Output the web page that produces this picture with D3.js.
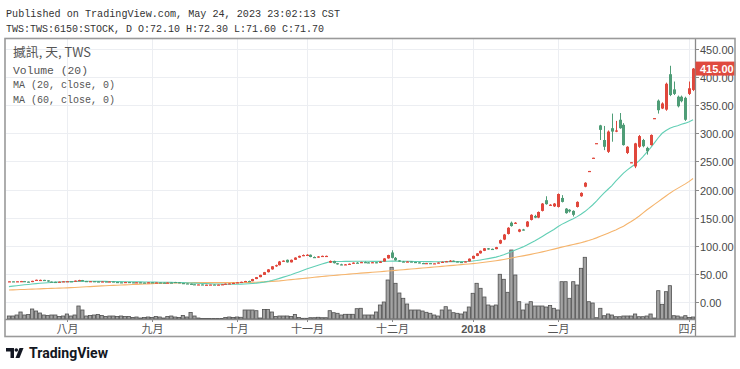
<!DOCTYPE html>
<html><head><meta charset="utf-8">
<script src="https://cdn.jsdelivr.net/npm/d3@7"></script>
<style>body{margin:0;background:#fff;}svg{display:block;}</style>
</head><body>
<svg id="c" width="740" height="369"></svg>
<script>
// ---------- DATA ----------
const openP = [36.5,36.8,36.6,36.9,37.2,36.3,35.4,37.6,38.6,39.3,
38.5,36.3,35.8,35.6,36.1,36.8,37.0,36.5,38.0,39.0,
37.3,36.6,37.1,36.5,36.0,36.6,36.1,36.5,35.6,35.1,
35.0,35.6,35.1,34.6,35.1,34.6,34.5,35.1,34.6,34.8,
34.5,34.0,34.6,35.6,35.1,33.7,33.1,32.5,31.6,31.1,
31.3,30.6,30.8,31.1,30.5,31.0,31.6,32.6,33.1,34.1,
35.0,35.9,37.3,37.0,40.8,44.2,48.2,53.0,58.0,63.5,
65.5,72.0,75.0,70.5,75.0,79.0,82.0,83.5,84.0,80.0,
79.0,81.0,80.5,70.0,73.0,69.0,67.0,66.0,67.0,68.0,
70.0,69.5,71.0,70.5,70.0,70.8,69.5,72.0,77.5,88.0,
78.5,74.0,72.0,71.5,72.0,71.2,70.5,69.3,68.6,69.2,
68.5,68.8,70.2,71.5,72.5,73.5,72.2,71.2,70.6,72.2,
77.0,82.0,86.5,91.0,95.5,94.5,94.0,104,111,121,
141,140,125,129,134,146,153,150,162,181,
172,170,169,185,166,164,162,169,188,205,
232,256,282,314,288,267,309,303,324,315,
265,247.5,241,276,288,274,279,326,358,344,
342,405,378,365,365,363,370,377];
const highP = [37.0,37.2,37.0,37.5,37.4,36.5,37.8,39.8,39.8,39.5,
38.6,36.6,36.1,36.3,37.0,37.2,37.1,38.2,39.5,39.2,
37.5,37.3,37.2,36.7,36.8,36.7,36.8,36.6,35.8,35.4,
35.8,35.7,35.2,35.3,35.2,34.9,35.3,35.2,35.0,34.9,
34.6,34.8,34.7,35.8,35.2,33.9,33.3,32.7,31.8,31.5,
31.4,31.0,31.3,31.2,31.2,31.8,32.8,33.3,34.3,35.2,
36.2,37.6,38.0,41.2,44.5,48.5,53.5,58.5,63.8,66.5,
73.0,74.0,75.5,75.5,79.5,82.5,84.5,85.0,84.5,81.0,
81.5,82.5,82.5,73.8,73.5,69.5,68.0,67.5,68.5,70.5,
71.0,71.5,72.0,71.0,71.0,71.0,72.5,78.0,84.0,92.0,
80.0,74.5,73.0,72.5,72.3,71.5,70.8,69.8,69.5,69.4,
69.0,70.5,72.0,73.0,74.5,73.8,72.5,71.5,72.5,77.5,
82.5,87.0,91.5,96.0,96.0,95.0,98.0,111,121,133,
143,142,130,130,144,156,155,161,176,188,
174,176,193,190,167,165,163,179,195,213,
233,256.5,282.5,315,313,305,335,322,336,318,
277,248.5,283,297,290,276,298,327,360,355,
390,420,392,367,367,365,392,416];
const lowP = [36.2,36.4,36.3,36.5,36.0,35.0,35.3,37.5,38.4,38.2,
36.0,35.5,35.3,35.5,36.0,36.5,36.3,36.4,37.8,37.0,
36.4,36.5,36.3,35.8,35.9,35.9,36.0,35.4,34.9,34.8,
34.9,34.9,34.3,34.5,34.4,34.3,34.4,34.4,34.3,34.3,
33.8,33.9,33.8,34.9,33.5,32.9,32.3,31.3,30.9,30.8,
30.4,30.4,30.7,30.3,30.4,30.9,31.5,32.4,33.0,34.0,
34.8,35.8,36.6,36.9,40.6,44.0,48.0,52.5,57.5,62.5,
65.0,71.5,70.0,70.3,74.8,78.5,81.5,83.0,79.5,78.5,
78.8,80.5,80.3,69.5,68.5,66.5,65.5,65.8,66.5,67.8,
69.0,69.3,70.0,69.5,69.5,69.0,69.3,71.8,77.0,77.5,
73.5,71.5,71.0,71.0,70.8,70.2,69.0,68.3,68.4,68.2,
68.0,68.6,70.0,71.0,72.0,71.8,70.8,70.3,70.5,72.0,
76.8,81.5,86.0,90.5,93.0,93.5,93.8,103,110,120,
134,139,124,127,133,145,149,149,161,173,
171,169,168,177,157,159,152,168,187,204,
232,256,282,288,270,265,285,302,308,278,
263,247.5,238,274,275,262,278,326,335,343,
340,366,368,346,355,322,368,375];
const closeP = [36.8,36.6,36.9,37.2,36.3,35.4,37.6,39.5,39.3,38.5,
36.3,35.8,35.6,36.1,36.8,37.0,36.5,38.0,39.0,37.3,
36.6,37.1,36.5,36.0,36.6,36.1,36.5,35.6,35.1,35.0,
35.6,35.1,34.6,35.1,34.6,34.5,35.1,34.6,34.8,34.5,
34.0,34.6,34.0,35.1,33.7,33.1,32.5,31.6,31.1,31.3,
30.6,30.8,31.1,30.5,31.0,31.6,32.6,33.1,34.1,35.0,
35.9,37.3,37.0,40.8,44.2,48.2,53.0,58.0,63.5,65.5,
72.0,73.5,70.5,75.0,79.0,82.0,83.5,84.0,80.0,79.0,
81.0,82.0,82.0,73.0,69.0,67.0,66.0,67.0,68.0,70.0,
69.5,71.0,70.5,70.0,70.8,69.5,72.0,77.5,83.5,78.5,
74.0,72.0,71.5,72.0,71.2,70.5,69.3,68.6,69.2,68.5,
68.8,70.2,71.5,72.5,73.5,72.2,71.2,70.6,72.2,77.0,
82.0,86.5,91.0,95.5,93.5,93.8,97.5,110,120,132,
135,141,129,128,143,155,150,160,175,174,
173,175,192,178,158,161,155,178,194,212,
233,256.5,282.5,306,276,303,303,305,309,279,
276,248.5,282,295,277,268,297,327,341,353,
388,368,370,348,357,324,380,415];
const volume = [600,600,800,1400,800,900,2000,1600,1200,800,
700,800,800,500,600,1000,600,800,2600,1800,
600,700,800,900,700,500,600,600,500,600,
500,500,300,400,200,300,400,300,500,400,
200,500,600,400,300,700,400,1300,600,200,
100,100,100,100,100,100,300,400,300,400,
340,1800,1800,1800,1660,200,1900,1900,1400,500,
600,600,600,500,900,300,140,140,260,260,
340,260,260,1660,1260,1140,800,940,940,940,
2060,2140,800,800,800,1400,2800,3400,7800,10340,
7140,5200,4140,3000,1800,1800,1800,1600,1340,1140,
800,600,1800,2460,1800,1260,1140,1000,1400,2400,
5140,7140,6140,4400,2800,2600,2800,8940,7940,5340,
13800,8800,3460,1800,3000,3460,2600,2600,2600,2400,
2700,2140,1800,7460,7460,4140,7460,6800,10140,12340,
3460,3200,260,2140,660,1000,800,460,460,600,
600,600,1000,460,460,600,1000,200,5660,2940,
5460,6660,660,600,400,660,300,400];
const ma20 = [27.3,28.2,29.0,29.8,30.6,31.2,31.9,32.6,33.2,33.8,
34.3,34.8,35.3,35.6,35.9,36.1,36.3,36.5,36.6,36.7,
36.8,36.8,36.8,36.7,36.7,36.6,36.5,36.4,36.3,36.2,
36.1,36.0,35.9,35.8,35.7,35.6,35.5,35.4,35.3,35.2,
35.1,35.0,34.9,34.8,34.6,34.4,34.2,33.9,33.6,33.3,
33.0,32.7,32.4,32.1,31.9,31.7,31.6,31.5,31.5,31.6,
31.8,32.1,32.5,33.0,33.6,34.4,35.4,36.6,38.1,39.9,
42.0,44.2,46.4,48.6,51.0,53.5,56.0,58.5,61.0,63.3,
65.5,67.6,69.6,71.4,71.8,72.0,72.1,72.2,72.3,72.4,
72.5,72.5,72.5,72.4,72.3,72.2,72.2,72.3,72.5,72.6,
72.6,72.5,72.4,72.3,72.2,72.1,72.0,71.9,71.8,71.7,
71.6,71.6,71.6,71.7,71.8,71.8,71.9,71.8,71.9,72.3,
72.9,73.7,74.8,75.9,77.1,78.4,79.8,81.7,84.0,86.7,
89.3,92.5,95.3,98.0,101.3,105.0,108.6,112.4,116.6,120.8,
124.8,129.0,133.8,138.0,141.5,144.8,148.0,151.8,156.0,160.8,
166.5,172.5,179.5,187.0,194.0,200.5,207.0,215.0,222.0,229.0,
235.0,240.0,245.0,251.0,258.0,266.0,274.0,283.0,292.0,300.0,
305.0,309.0,311.5,313.5,316.0,318.0,320.5,324.0];
const ma60 = [21.3,21.6,21.8,22.1,22.3,22.6,22.9,23.1,23.4,23.7,
23.9,24.2,24.4,24.7,25.0,25.2,25.5,25.9,26.3,26.7,
27.1,27.4,27.8,28.2,28.6,29.0,29.3,29.6,29.9,30.2,
30.5,30.8,31.1,31.4,31.7,32.0,32.3,32.6,32.9,33.1,
33.3,33.5,33.7,33.9,34.0,34.1,34.2,34.3,34.4,34.5,
34.5,34.5,34.5,34.5,34.4,34.4,34.4,34.4,34.4,34.5,
34.6,34.7,34.8,35.0,35.2,35.5,35.8,36.2,36.6,37.1,
37.6,38.3,39.0,39.7,40.4,41.1,41.8,42.5,43.2,43.9,
44.6,45.3,46.0,46.6,47.2,47.8,48.4,49.0,49.6,50.2,
50.8,51.3,51.8,52.3,52.8,53.3,53.8,54.4,55.0,55.6,
56.2,56.8,57.4,58.0,58.6,59.2,59.8,60.4,61.0,61.6,
62.2,62.8,63.4,64.0,64.6,65.2,65.8,66.4,67.0,67.6,
68.3,69.0,69.8,70.6,71.5,72.4,73.4,74.5,75.7,77.0,
78.3,79.6,80.8,82.0,83.3,84.7,86.1,87.6,89.1,90.7,
92.3,94.0,95.8,97.6,99.2,100.7,102.2,103.8,105.5,107.3,
109.3,111.5,114.0,116.7,119.5,122.3,125.2,128.2,131.4,134.7,
139.0,143.0,147.5,152.5,158.0,163.5,168.5,173.5,178.5,183.5,
188.5,193.5,198.0,202.0,206.0,210.0,214.5,219.5];
const monthTickIndex = [15, 37, 59, 77, 99, 120, 142, 176];
const monthTickLabels = ["八月","九月","十月","十一月","十二月","2018","二月","四月"];
const priceTicks = [0,50,100,150,200,250,300,350,400,450];
const lastPrice = 415.00;
const headerLines = ["Published on TradingView.com, May 24, 2023 23:02:13 CST",
                     "TWS:TWS:6150:STOCK, D O:72.10 H:72.30 L:71.60 C:71.70"];
const legendLines = ["撼訊, 天, TWS","Volume (20)","MA (20, close, 0)","MA (60, close, 0)"];

// ---------- LAYOUT ----------
const N = closeP.length;
const X0 = 7, X1 = 695, TOP = 39, BOT = 319;
const UP = "#e0473c", DOWN = "#4f9d77";
const svg = d3.select("#c");
const x = d3.scaleBand().domain(d3.range(N)).range([X0, X1]);
const bw = x.bandwidth();
const cx = i => x(i) + bw / 2;
const y = d3.scaleLinear().domain([0, 450]).range([302, 48.9]);
const yv = d3.scaleLinear().domain([0, d3.max(volume)]).range([BOT, 250]);

// header
const mono = "'Liberation Mono', 'DejaVu Sans Mono', monospace";
svg.append("text").attr("x", 6).attr("y", 17).attr("font-family", mono).attr("font-size", 11.5)
  .attr("fill", "#333").attr("textLength", 334).attr("lengthAdjust", "spacingAndGlyphs").text(headerLines[0]);
svg.append("text").attr("x", 6).attr("y", 32).attr("font-family", mono).attr("font-size", 11.5)
  .attr("fill", "#333").attr("textLength", 318).attr("lengthAdjust", "spacingAndGlyphs").text(headerLines[1]);

const defs = svg.append("defs");
defs.append("clipPath").attr("id", "plot").append("rect")
  .attr("x", 6).attr("y", TOP).attr("width", X1 - 6).attr("height", BOT - TOP);
defs.append("clipPath").attr("id", "xax").append("rect")
  .attr("x", 6).attr("y", BOT).attr("width", X1 - 6).attr("height", 18);

// grid
const grid = svg.append("g").attr("stroke", "#eceef2").attr("stroke-width", 1);
priceTicks.forEach(v => grid.append("line").attr("x1", 6).attr("x2", X1)
  .attr("y1", Math.round(y(v)) + 0.5).attr("y2", Math.round(y(v)) + 0.5));
monthTickIndex.forEach(i => grid.append("line").attr("x1", Math.round(cx(i)) + 0.5).attr("x2", Math.round(cx(i)) + 0.5)
  .attr("y1", TOP).attr("y2", BOT));

const plot = svg.append("g").attr("clip-path", "url(#plot)");

// volume
plot.append("g").selectAll("rect").data(volume).join("rect")
  .attr("x", (d, i) => x(i) + 0.3).attr("width", bw - 0.6)
  .attr("y", d => Math.min(yv(d), BOT - 0.6)).attr("height", d => Math.max(BOT - yv(d), 0.6))
  .attr("fill", "#a3a3a3").attr("stroke", "#505050").attr("stroke-width", 0.8);

// moving averages
const line = d3.line().x((d, i) => cx(i)).y(d => y(d));
plot.append("path").attr("d", line(ma60)).attr("fill", "none").attr("stroke", "#f5b46c").attr("stroke-width", 1.1);
plot.append("path").attr("d", line(ma20)).attr("fill", "none").attr("stroke", "#62cfb5").attr("stroke-width", 1.1);

// candles
const cg = plot.append("g");
d3.range(N).forEach(i => {
  const o = openP[i], c = closeP[i], h = highP[i], l = lowP[i];
  const col = c >= o ? UP : DOWN;
  const xc = Math.round(cx(i)) + 0.5;
  cg.append("line").attr("x1", xc).attr("x2", xc).attr("y1", y(h)).attr("y2", y(l))
    .attr("stroke", col).attr("stroke-width", 1);
  const top = y(Math.max(o, c)), ht = Math.max(1.2, Math.abs(y(o) - y(c)));
  cg.append("rect").attr("x", xc - 1.5).attr("width", 3).attr("y", top).attr("height", ht).attr("fill", col);
});

// legend
const lg = svg.append("g").attr("fill", "#555");
lg.append("text").attr("x", 13).attr("y", 57).attr("font-family", "'Noto Sans CJK TC', sans-serif")
  .attr("font-size", 12.5).attr("textLength", 78).attr("lengthAdjust", "spacingAndGlyphs").text(legendLines[0]);
[[legendLines[1], 74, 75], [legendLines[2], 88, 102], [legendLines[3], 103, 102]].forEach(([t, yy, w]) => {
  lg.append("text").attr("x", 13).attr("y", yy).attr("font-family", mono).attr("font-size", 11)
    .attr("textLength", w).attr("lengthAdjust", "spacingAndGlyphs").text(t);
});

// axes lines & frame
svg.append("line").attr("x1", 5).attr("x2", X1).attr("y1", BOT + 0.5).attr("y2", BOT + 0.5)
  .attr("stroke", "#8a8a8a").attr("stroke-width", 1.3);
svg.append("line").attr("x1", X1 + 0.5).attr("x2", X1 + 0.5).attr("y1", 38).attr("y2", 337)
  .attr("stroke", "#8a8a8a").attr("stroke-width", 1.3);

// right axis
const ra = svg.append("g");
priceTicks.forEach(v => {
  const yy = Math.round(y(v)) + 0.5;
  ra.append("line").attr("x1", X1).attr("x2", X1 + 4).attr("y1", yy).attr("y2", yy).attr("stroke", "#8a8a8a");
  ra.append("text").attr("x", 700).attr("y", yy + 4).attr("font-family", "'Liberation Sans', Arial, sans-serif")
    .attr("font-size", 11).attr("fill", "#4a4a4a").text(d3.format(".2f")(v));
});
ra.append("rect").attr("x", X1 + 0.5).attr("y", y(lastPrice) - 7).attr("width", 40).attr("height", 14).attr("fill", "#df4a3f");
ra.append("text").attr("x", 700).attr("y", y(lastPrice) + 4).attr("font-family", "'Liberation Sans', Arial, sans-serif")
  .attr("font-size", 11).attr("font-weight", "bold").attr("fill", "#fff").text(d3.format(".2f")(lastPrice));

// x axis
const xa = svg.append("g").attr("clip-path", "url(#xax)");
monthTickIndex.forEach((idx, k) => {
  const xx = Math.round(cx(idx)) + 0.5;
  xa.append("line").attr("x1", xx).attr("x2", xx).attr("y1", BOT).attr("y2", BOT + 3).attr("stroke", "#8a8a8a");
  xa.append("text").attr("x", xx).attr("y", 333).attr("text-anchor", "middle")
    .attr("font-family", k === 5 ? "'Liberation Sans', Arial, sans-serif" : "'Noto Sans CJK TC', sans-serif")
    .attr("font-weight", k === 5 ? "bold" : "normal")
    .attr("font-size", 11).attr("fill", "#555").text(monthTickLabels[k]);
});

// outer frame
svg.append("rect").attr("x", 5).attr("y", 38.5).attr("width", 730).attr("height", 298)
  .attr("fill", "none").attr("stroke", "#9a9a9a").attr("stroke-width", 1.6);

// TradingView logo
const logo = svg.append("g").attr("fill", "#131722");
logo.append("path").attr("d", "M6,348 H14 V358 H10.5 V351.5 H6 Z");
logo.append("circle").attr("cx", 16.3).attr("cy", 350).attr("r", 1.8);
logo.append("path").attr("d", "M19.5,348 H23.5 L19.5,358 H15.5 Z");
logo.append("text").attr("x", 29).attr("y", 358).attr("font-family", "Roboto, 'Open Sans', sans-serif")
  .attr("font-weight", "bold").attr("font-size", 14.5).attr("textLength", 79).attr("lengthAdjust", "spacingAndGlyphs")
  .text("TradingView");
</script>
</body></html>
